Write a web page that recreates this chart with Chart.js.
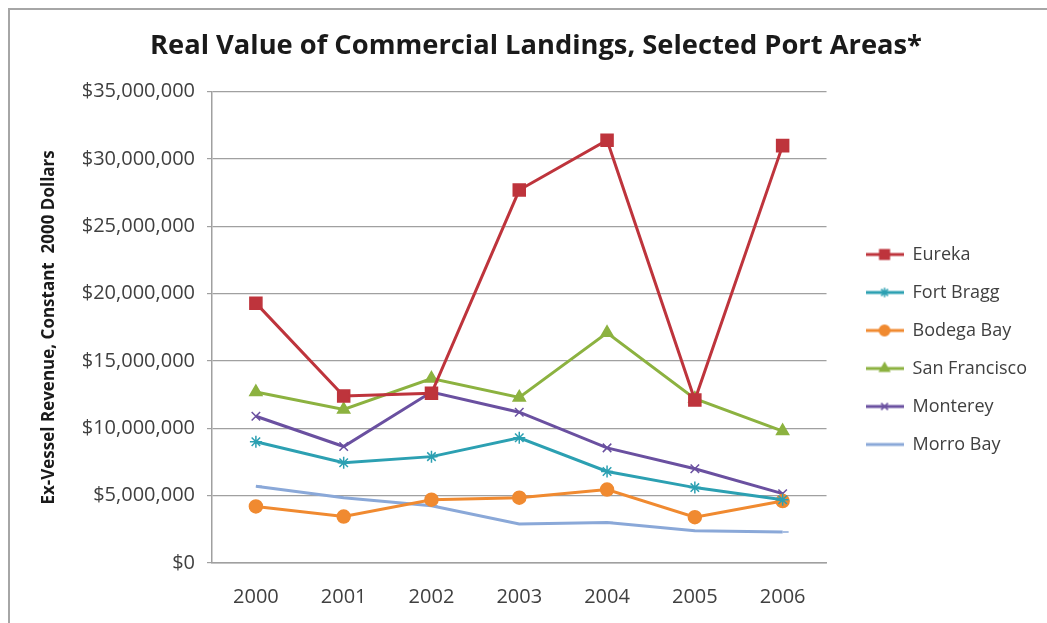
<!DOCTYPE html>
<html>
<head>
<meta charset="utf-8">
<script src="https://cdn.jsdelivr.net/npm/chart.js@4.4.1/dist/chart.umd.min.js"></script>
<style>
  html, body { margin: 0; padding: 0; background: #fff; }
  #wrap { position: relative; width: 1047px; height: 623px; overflow: hidden; }
  #frame { position: absolute; left: 8px; top: 8px; width: 1050px; height: 640px;
           border: 2px solid #a6a6a6; box-sizing: border-box; pointer-events: none; }
  #myChart { position: absolute; left: 0; top: 0; }
</style>
</head>
<body>
<div id="wrap">
  <canvas id="myChart" width="1047" height="623"></canvas>
  <div id="frame"></div>
</div>
<script>
const years = ["2000", "2001", "2002", "2003", "2004", "2005", "2006"]
const eureka = [19300000, 12400000, 12600000, 27700000, 31400000, 12100000, 31000000]
const fortBragg = [9000000, 7450000, 7900000, 9300000, 6800000, 5600000, 4700000]
const bodegaBay = [4200000, 3450000, 4700000, 4850000, 5450000, 3400000, 4600000]
const sanFrancisco = [12700000, 11400000, 13700000, 12300000, 17100000, 12200000, 9800000]
const monterey = [10900000, 8650000, 12700000, 11200000, 8550000, 7000000, 5150000]
const morroBay = [5700000, 4850000, 4250000, 2900000, 3000000, 2400000, 2300000]

const canvas = document.querySelector("#myChart")
const font = "'Open Sans', 'Noto Sans', sans-serif"

function icon(color, style, radius) {
    // small line + marker picture for the legend
    const c = document.createElement("canvas")
    c.width = 38
    c.height = 18
    const ctx = c.getContext("2d")
    ctx.strokeStyle = color
    ctx.lineWidth = 3
    ctx.beginPath()
    ctx.moveTo(0, 9)
    ctx.lineTo(38, 9)
    ctx.stroke()
    ctx.fillStyle = color
    ctx.lineWidth = 1.5
    Chart.helpers.drawPoint(ctx, { pointStyle: style, radius: radius * 0.8, rotation: 0, borderWidth: 1.5 }, 19, 9)
    return c
}

function makeSet(label, data, color, style, radius) {
    return {
        label,
        data,
        borderColor: color,
        backgroundColor: color,
        borderWidth: 3,
        pointStyle: style,
        pointRadius: radius,
        pointBorderWidth: 1.5,
        pointBorderColor: color,
        pointBackgroundColor: color,
        tension: 0,
        legendIcon: icon(color, style, radius)
    }
}

const datasets = [
    makeSet("Eureka", eureka, "rgb(190, 52, 60)", "rect", 8.5),
    makeSet("Fort Bragg", fortBragg, "rgb(44, 160, 178)", "star", 6),
    makeSet("Bodega Bay", bodegaBay, "rgb(240, 138, 48)", "circle", 6.5),
    makeSet("San Francisco", sanFrancisco, "rgb(140, 178, 64)", "triangle", 7),
    makeSet("Monterey", monterey, "rgb(106, 80, 160)", "crossRot", 6),
    makeSet("Morro Bay", morroBay, "rgb(138, 168, 216)", "dash", 6)
]

const config = {
    type: "line",
    data: { labels: years, datasets },
    options: {
        responsive: false,
        animation: false,
        layout: { padding: { left: 35, right: 10, top: 0, bottom: 12 } },
        plugins: {
            title: {
                display: true,
                text: "Real Value of Commercial Landings, Selected Port Areas*",
                color: "#1a1a1a",
                font: { family: font, size: 27.3, weight: "bold" },
                padding: { top: 30, bottom: 29 }
            },
            legend: {
                position: "right",
                maxWidth: 260,
                // empty title only pushes the entries down
                title: { display: true, text: " ", font: { size: 10 }, padding: { top: 38, bottom: 38 } },
                labels: {
                    usePointStyle: true,
                    pointStyleWidth: 38,
                    padding: 20,
                    color: "#404040",
                    font: { family: font, size: 18 },
                    generateLabels: (chart) => chart.data.datasets.map((ds, i) => ({
                        text: ds.label,
                        pointStyle: ds.legendIcon,
                        fillStyle: ds.borderColor,
                        strokeStyle: ds.borderColor,
                        lineWidth: 0,
                        hidden: false,
                        datasetIndex: i,
                        fontColor: "#404040"
                    }))
                }
            },
            tooltip: { enabled: false }
        },
        scales: {
            x: {
                offset: true,
                grid: { display: false, drawTicks: false },
                border: { display: true, color: "#a0a0a0", width: 1.5 },
                ticks: { color: "#404040", padding: 22, font: { family: font, size: 20 } },
                afterFit: (scale) => { scale.height = 48 }
            },
            y: {
                min: 0,
                max: 35000000,
                grid: { color: "#a0a0a0", lineWidth: 1.2, tickLength: 5 },
                border: { display: true, color: "#a0a0a0", width: 1.5 },
                ticks: {
                    stepSize: 5000000,
                    color: "#404040",
                    padding: 12,
                    font: { family: font, size: 20 },
                    callback: (v) => "$" + v.toLocaleString("en-US")
                },
                title: {
                    display: true,
                    text: "Ex-Vessel Revenue, Constant  2000 Dollars",
                    color: "#1a1a1a",
                    font: { family: font, size: 17, weight: "bold" },
                    padding: { top: 4, bottom: 10 }
                },
                afterFit: (scale) => { scale.width = 177 }
            },
            gap: {
                position: "right",
                display: true,
                grid: { display: false },
                border: { display: false },
                ticks: { display: false },
                afterFit: (scale) => { scale.width = 19 }
            }
        }
    }
}

new Chart(canvas, config)
</script>
</body>
</html>
